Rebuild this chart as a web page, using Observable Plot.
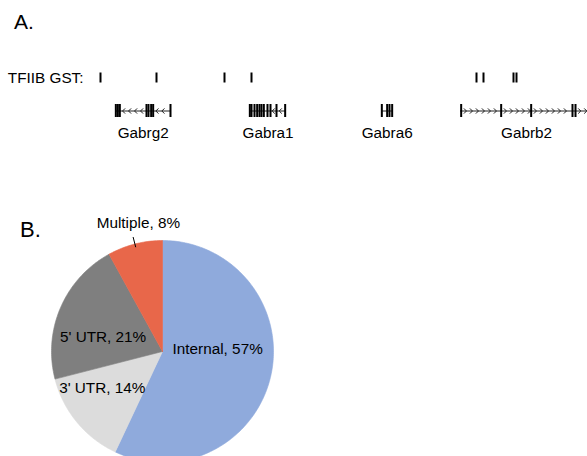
<!DOCTYPE html>
<html>
<head>
<meta charset="utf-8">
<script src="https://cdn.jsdelivr.net/npm/d3@7"></script>
<script src="https://cdn.jsdelivr.net/npm/@observablehq/plot@0.6"></script>
<style>
  html, body { margin: 0; padding: 0; overflow: hidden; background: #fff; }
  #chart { position: relative; width: 587px; height: 456px; overflow: hidden;
           font-family: "Liberation Sans", Arial, sans-serif; color: #000; }
  .panel { position: absolute; line-height: 1; }
  #trackA { position: absolute; left: 0; top: 0; }
  #pieB { position: absolute; left: 0; top: 150px; }
</style>
</head>
<body>
<div id="chart">
  <div id="trackA"></div>
  <div id="pieB"></div>
  <div class="panel" style="left:14px; top:11px; font-size:21px;">A.</div>
  <div class="panel" style="left:20px; top:219px; font-size:22px;">B.</div>
</div>
<script>
// ---------- Panel A data (genomic positions in kb along the region) ----------
const gstLabel = "TFIIB GST:";
const gstSites = [150, 234, 336, 376.5, 714, 724.5, 769.5, 774];
const geneNames = ["Gabrg2", "Gabra1", "Gabra6", "Gabrb2"];
const geneStart = [173, 373.5, 572, 690];
const geneEnd = [255, 429, 588, 888];
const geneStrand = ["-", "-", "+", "+"];
const geneExons = [
  [173, 176, 179, 219, 222, 226, 229, 255],
  [374, 376.5, 381, 385, 388.5, 391.5, 395, 400.5, 405, 414, 427],
  [572, 580, 583.5, 587.5],
  [691, 751, 796, 858, 862.5]
];

// ---------- Panel B data ----------
const categories = ["Internal", "3' UTR", "5' UTR", "Multiple"];
const percents = [57, 14, 21, 8];
const sliceColors = ["#8FAADC", "#DCDCDC", "#7F7F7F", "#E8674A"];

// ---------- layout / style (not data) ----------
const FONT = "Liberation Sans, Arial, sans-serif";
const FS = "15.3px";
const labelRadius = [0.5, 0.5, 0.5, 1.2];
const labelDx = [1, -17.5, -8.5, 9];
const labelDy = [-15, 1.5, 8, 1];

// chevron symbols for strand direction
const chevronLeft = {draw(c, size) { const r = Math.sqrt(size / Math.PI); c.moveTo(r * 0.5, -r); c.lineTo(-r * 0.5, 0); c.lineTo(r * 0.5, r); }};
const chevronRight = {draw(c, size) { const r = Math.sqrt(size / Math.PI); c.moveTo(-r * 0.5, -r); c.lineTo(r * 0.5, 0); c.lineTo(-r * 0.5, r); }};

// ---------- Panel A ----------
const genes = geneNames.map((name, i) => ({
  name, start: geneStart[i], end: geneEnd[i], strand: geneStrand[i], exons: geneExons[i]
}));
const exonRows = genes.flatMap(g => g.exons.map(p => ({gene: g.name, pos: p})));

// strand chevrons placed along the introns (decoration derived from gene structure)
const arrowStep = 9;
const strandRows = genes.flatMap(g => {
  const bounds = Array.from(new Set([g.start, ...g.exons, g.end])).sort((a, b) => a - b);
  const pts = [];
  for (let k = 0; k < bounds.length - 1; k++) {
    const a = bounds[k], b = bounds[k + 1];
    if (b - a >= 12) for (let p = a + 6; p <= b - 3; p += arrowStep) pts.push(p);
    else if (b - a >= 9) pts.push((a + b) / 2);
  }
  return pts.map(x => ({gene: g.name, strand: g.strand, x}));
});

const plotA = Plot.plot({
  width: 587,
  height: 150,
  marginLeft: 90,
  marginRight: 0,
  marginTop: 60.5,
  marginBottom: 23.5,
  style: {fontFamily: FONT, fontSize: FS, background: "transparent", color: "#000"},
  x: {domain: [135, 880.5], axis: null},
  y: {type: "band", domain: [gstLabel, "genes"], padding: 0, tickSize: 0, tickPadding: 7,
      tickFormat: d => d === gstLabel ? d : "", label: null},
  marks: [
    Plot.tickX(gstSites, {x: d => d, y: () => gstLabel, stroke: "#000", strokeWidth: 2,
      insetTop: 11.5, insetBottom: 11.5}),
    Plot.ruleY(genes, {x1: "start", x2: "end", y: () => "genes", stroke: "#222", strokeWidth: 1, clip: true}),
    Plot.dot(strandRows.filter(d => d.strand === "-"), {x: "x", y: () => "genes", r: 2.6,
      symbol: chevronLeft, fill: "none", stroke: "#222", strokeWidth: 1, clip: true}),
    Plot.dot(strandRows.filter(d => d.strand === "+"), {x: "x", y: () => "genes", r: 2.6,
      symbol: chevronRight, fill: "none", stroke: "#222", strokeWidth: 1, clip: true}),
    Plot.tickX(exonRows, {x: "pos", y: () => "genes", stroke: "#000", strokeWidth: 2,
      insetTop: 10, insetBottom: 10, clip: true}),
    Plot.text(genes, {x: d => (d.start + d.end) / 2, y: () => "genes", text: "name", dy: 22,
      fill: "#000"})
  ]
});
document.getElementById("trackA").append(plotA);

// ---------- Panel B: pie ----------
const total = d3.sum(percents);
let acc = 0;
const slices = categories.map((c, i) => {
  const s = acc / total;
  acc += percents[i];
  return {cat: c, pct: percents[i], s, e: acc / total};
});
const piePoints = slices.flatMap(sl => {
  const n = Math.max(2, Math.ceil((sl.e - sl.s) * 360));
  const pts = [{cat: sl.cat, x: 0, y: 0}];
  for (let k = 0; k <= n; k++) {
    const a = 2 * Math.PI * (sl.s + (sl.e - sl.s) * k / n);
    pts.push({cat: sl.cat, x: Math.sin(a), y: Math.cos(a)});
  }
  pts.push({cat: sl.cat, x: 0, y: 0});
  return pts;
});
const labelRows = slices.map((sl, i) => {
  const a = Math.PI * (sl.s + sl.e);
  return {text: `${sl.cat}, ${sl.pct}%`, x: labelRadius[i] * Math.sin(a), y: labelRadius[i] * Math.cos(a), a};
});
const multi = slices[3];
const ma = Math.PI * (multi.s + multi.e);
const leader = [{x1: 0.97 * Math.sin(ma), y1: 0.97 * Math.cos(ma), x2: 1.065 * Math.sin(ma), y2: 1.065 * Math.cos(ma)}];

const plotB = Plot.plot({
  width: 587,
  height: 312,
  marginLeft: 51,
  marginRight: 314,
  marginTop: 90,
  marginBottom: 0,
  style: {fontFamily: FONT, fontSize: FS, background: "transparent", color: "#000"},
  x: {domain: [-1, 1], axis: null},
  y: {domain: [-1, 1], axis: null},
  color: {domain: categories, range: sliceColors},
  marks: [
    Plot.line(piePoints, {x: "x", y: "y", z: "cat", fill: "cat", stroke: "cat", strokeWidth: 0.6}),
    Plot.link(leader, {x1: "x1", y1: "y1", x2: "x2", y2: "y2", stroke: "#000", strokeWidth: 1}),
    ...labelRows.map((r, i) => Plot.text([r], {x: "x", y: "y", text: "text", dx: labelDx[i], dy: labelDy[i], fill: "#000"}))
  ]
});
document.getElementById("pieB").append(plotB);
</script>
</body>
</html>
